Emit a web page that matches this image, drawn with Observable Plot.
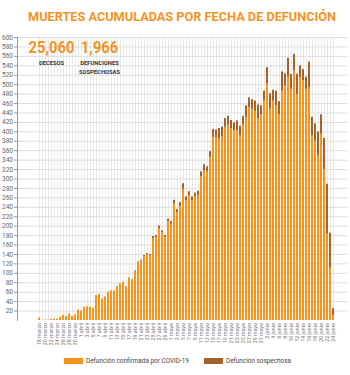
<!DOCTYPE html>
<html><head><meta charset="utf-8">
<script src="https://cdn.jsdelivr.net/npm/d3@7"></script>
<script src="https://cdn.jsdelivr.net/npm/@observablehq/plot@0.6"></script>
<style>
body{margin:0;background:#fff;font-family:Roboto,"Open Sans",sans-serif;}
#wrap{width:350px;position:relative;}
#title{height:30px;line-height:33px;color:#F39325;font-weight:700;font-size:13px;white-space:nowrap;position:relative;}
#title span{position:absolute;left:28px;top:0;transform-origin:0 50%;}
#legend{position:relative;height:22px;font-size:6.4px;color:#444;}
.item{position:absolute;top:4px;display:flex;align-items:center;white-space:nowrap;}
.sw{width:19px;height:6px;margin-right:3px;}
</style></head><body>
<div id="wrap">
<div id="title"><span>MUERTES ACUMULADAS POR FECHA DE DEFUNCIÓN</span></div>
<div id="chart"></div>
<div id="legend"></div>
</div>
<script>
const dates = ["18 marzo","19 marzo","20 marzo","21 marzo","22 marzo","23 marzo","24 marzo","25 marzo","26 marzo","27 marzo","28 marzo","29 marzo","30 marzo","31 marzo",
"1 abril","2 abril","3 abril","4 abril","5 abril","6 abril","7 abril","8 abril","9 abril","10 abril","11 abril","12 abril","13 abril","14 abril","15 abril","16 abril","17 abril","18 abril","19 abril","20 abril","21 abril","22 abril","23 abril","24 abril","25 abril","26 abril","27 abril","28 abril","29 abril","30 abril",
"1 mayo","2 mayo","3 mayo","4 mayo","5 mayo","6 mayo","7 mayo","8 mayo","9 mayo","10 mayo","11 mayo","12 mayo","13 mayo","14 mayo","15 mayo","16 mayo","17 mayo","18 mayo","19 mayo","20 mayo","21 mayo","22 mayo","23 mayo","24 mayo","25 mayo","26 mayo","27 mayo","28 mayo","29 mayo","30 mayo","31 mayo",
"1 junio","2 junio","3 junio","4 junio","5 junio","6 junio","7 junio","8 junio","9 junio","10 junio","11 junio","12 junio","13 junio","14 junio","15 junio","16 junio","17 junio","18 junio","19 junio","20 junio","21 junio","22 junio","23 junio","24 junio"];

const confirmed = [5,0,1,1,2,3,3,7,11,8,14,9,12,22,20,28,29,28,26,53,55,45,50,60,63,63,72,78,80,70,
89,85,103,122,126,135,139,137,174,176,195,186,176,209,204,247,228,242,278,254,
265,254,262,264,305,318,315,346,388,388,385,390,410,414,407,403,402,391,414,430,
451,447,443,428,436,465,501,448,465,455,437,486,497,515,490,529,479,515,508,490,
494,391,380,349,395,320,183,111,10];

const suspected = [0,0,0,0,0,0,0,0,0,0,0,0,0,0,0,0,0,0,0,0,0,0,0,0,0,0,0,0,1,1,
1,1,2,2,2,3,3,3,4,4,5,4,4,6,6,8,7,8,12,8,
8,8,8,10,10,12,11,12,17,16,22,20,18,19,17,16,21,21,19,25,
21,21,22,29,19,21,35,33,23,31,27,41,26,41,32,35,43,25,24,26,
54,40,37,51,41,66,106,74,15];

const series = ["Defunción confirmada por COVID-19","Defunción sospechosa"];
const colors = ["#F7941E","#A5622B"];
const yTicks = d3.range(20, 601, 20);
const xTicks = dates.filter((d, i) => i % 2 === 0);
const totals = [{value: "25,060", label: "DECESOS"}, {value: "1,966", label: "DEFUNCIONES\nSOSPECHOSAS"}];

const rows = [];
dates.forEach((d, i) => {
  rows.push({date: d, type: series[0], value: confirmed[i]});
  rows.push({date: d, type: series[1], value: suspected[i]});
});

const orange = "#F39325";
const annotOffsets = [34, 82];
const annotWidths = [46, 37];

const chart = Plot.plot({
  width: 350, height: 323,
  marginTop: 7, marginBottom: 33, marginLeft: 17, marginRight: 3,
  style: {fontFamily: "Roboto, sans-serif", background: "transparent", color: "#777"},
  x: {domain: dates, padding: 0.2, insetLeft: 8, label: null, axis: null},
  y: {domain: [0, 600], label: null, axis: null},
  color: {domain: series, range: colors},
  marks: [
    Plot.gridX(dates, {stroke: "#e9e9e9", strokeOpacity: 1}),
    Plot.gridY(yTicks, {stroke: "#dddddd", strokeOpacity: 1}),
    Plot.barY(rows, {x: "date", y: "value", fill: "type", order: series}),
    Plot.axisY(yTicks, {tickSize: 3, tickPadding: 1.5, fontSize: 6.5, stroke: "#999", fill: "#666"}),
    Plot.frame({anchor: "left", stroke: "#999"}),
    Plot.axisX(xTicks, {tickRotate: -90, tickSize: 0, tickPadding: 2.5, fontSize: 5.3, fill: "#777"}),
    ...totals.map((t, i) => Plot.text([t], {text: "value", frameAnchor: "top-left", dx: annotOffsets[i], dy: 3, lineAnchor: "top", textAnchor: "middle", fontSize: 17, fontWeight: 700, fill: orange, className: "bignum" + i})),
    ...totals.map((t, i) => Plot.text([t], {text: "label", frameAnchor: "top-left", dx: annotOffsets[i], dy: 21, lineAnchor: "top", textAnchor: "middle", fontSize: 5.8, fontWeight: 700, fill: "#333", lineHeight: 1.6}))
  ]
});
document.getElementById("chart").appendChild(chart);

totals.forEach((t, i) => {
  d3.select(chart).selectAll(".bignum" + i + " text").attr("textLength", annotWidths[i]).attr("lengthAdjust", "spacingAndGlyphs");
});

const span = document.querySelector("#title span");
const w = span.getBoundingClientRect().width;
span.style.transform = `scaleX(${308 / w})`;

const legend = document.getElementById("legend");
const legendLeft = [64, 204];
series.forEach((s, i) => {
  const item = document.createElement("div");
  item.className = "item";
  item.style.left = legendLeft[i] + "px";
  item.innerHTML = `<div class="sw" style="background:${colors[i]}"></div><span>${s}</span>`;
  legend.appendChild(item);
});
</script>
</body></html>
